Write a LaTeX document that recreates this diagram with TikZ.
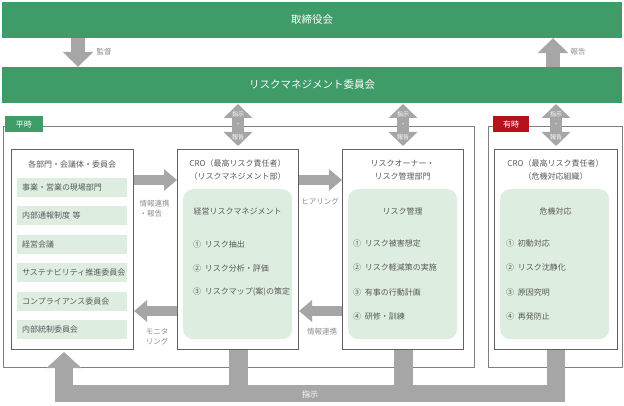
\documentclass[tikz,border=0pt]{standalone}
\usepackage{fontspec}
\newfontfamily\jpfont{Noto Sans CJK JP}
\usetikzlibrary{arrows.meta}
\definecolor{boardgreen}{HTML}{3F9B68}
\definecolor{palegreen}{HTML}{DDEEE1}
\definecolor{arrowgray}{HTML}{A6A6A6}
\definecolor{textgray}{HTML}{595959}
\definecolor{notegray}{HTML}{8C8C8C}
\definecolor{framegray}{HTML}{808080}
\definecolor{alertred}{HTML}{B5121B}

\begin{document}
\begin{tikzpicture}[x=1pt,y=-1pt,font=\jpfont\fontsize{8}{9}\selectfont,text=textgray,
  greenbar/.style={fill=boardgreen,text=white,inner sep=0pt,minimum width=620pt,minimum height=36pt,font=\jpfont\fontsize{10.5}{12}\selectfont},
  framebox/.style={draw=framegray,line width=0.8pt},
  phasetag/.style={text=white,inner sep=0pt,minimum height=16pt,font=\jpfont\fontsize{8}{9}\selectfont},
  unitbox/.style={draw=black!62,line width=1pt,fill=white,inner sep=0pt,minimum height=200pt,anchor=north west},
  tasktag/.style={fill=palegreen,inner xsep=5pt,inner ysep=0pt,text width=100pt,minimum height=19pt,align=left},
  taskpanel/.style={fill=palegreen,rounded corners=10pt,inner sep=0pt,minimum width=109pt,minimum height=150pt,anchor=north west},
  steptext/.style={anchor=west,inner sep=0pt},
  note/.style={text=notegray,font=\jpfont\fontsize{7.5}{10}\selectfont},
  arrowtext/.style={text=white,inner sep=0pt,font=\jpfont\fontsize{6}{6}\selectfont},
  flowarrow/.style={arrowgray,line width=10pt,-{Triangle[width=21pt,length=13pt]}},
  vertarrow/.style={arrowgray,line width=14pt,-{Triangle[width=30pt,length=15pt]}},
  dualarrow/.style={arrowgray,line width=12pt,{Triangle[width=28pt,length=14pt]}-{Triangle[width=28pt,length=14pt]}},
  bigarrow/.style={arrowgray,line width=17.5pt,line join=miter,-{Triangle[width=34pt,length=16pt]}},
  stem/.style={arrowgray,line width=19pt}]
\useasboundingbox (0,0) rectangle (624,406);

% board and committee
\node[greenbar] (board) at (312,20) {取締役会};
\node[greenbar] (committee) at (312,85) {リスクマネジメント委員会};
\draw[vertarrow] (board.south -| 78,0) -- (committee.north -| 78,0);
\node[note,anchor=west] (supervise) at (93,52) {監督};
\draw[vertarrow] (committee.north -| 553,0) -- (board.south -| 553,0);
\node[note,anchor=west] (reportup) at (567,52) {報告};

% phase frames
\draw[framebox] (3,126) rectangle (474,367);
\draw[framebox] (488,126) rectangle (622,367);
\node[phasetag,fill=boardgreen,minimum width=38pt] (normal) at (24,124) {平時};
\node[phasetag,fill=alertred,minimum width=36pt] (emergency) at (511,124) {有時};

% units
\node[unitbox,minimum width=122pt] (dept) at (11,149) {};
\node[unitbox,minimum width=121pt] (cro) at (177,149) {};
\node[unitbox,minimum width=121pt] (owner) at (342,149) {};
\node[unitbox,minimum width=123pt] (crisis) at (494,149) {};

\node (deptT) at (72,164) {各部門・会議体・委員会};
\foreach \t [count=\i] in {事業・営業の現場部門,内部通報制度 等,経営会議,サステナビリティ推進委員会,コンプライアンス委員会,内部統制委員会}
  \node[tasktag] (item\i) at (72,{187.5+(\i-1)*28.4}) {\t};

\node (croT) at (237.5,163) {CRO（最高リスク責任者）};
\node (croS) at (237.5,176) {（リスクマネジメント部）};
\node[taskpanel] (croP) at (183,189) {};
\node (croH) at (237.5,211) {経営リスクマネジメント};
\node[steptext] (cro1) at (193,244) {①\ \ リスク抽出};
\node[steptext] (cro2) at (193,268) {②\ \ リスク分析・評価};
\node[steptext] (cro3) at (193,292) {③\ \ リスクマップ(案)の策定};

\node (ownerT) at (402.5,163) {リスクオーナー・};
\node (ownerS) at (402.5,176) {リスク管理部門};
\node[taskpanel] (ownerP) at (348,189) {};
\node (ownerH) at (402.5,211) {リスク管理};
\node[steptext] (owner1) at (353,243) {①\ \ リスク被害想定};
\node[steptext] (owner2) at (353,267.5) {②\ \ リスク軽減策の実施};
\node[steptext] (owner3) at (353,292) {③\ \ 有事の行動計画};
\node[steptext] (owner4) at (353,316.5) {④\ \ 研修・訓練};

\node (crisisT) at (555.5,163) {CRO（最高リスク責任者）};
\node (crisisS) at (555.5,176) {（危機対応組織）};
\node[taskpanel] (crisisP) at (500,189) {};
\node (crisisH) at (555.5,211) {危機対応};
\node[steptext] (crisis1) at (506,243) {①\ \ 初動対応};
\node[steptext] (crisis2) at (506,267.5) {②\ \ リスク沈静化};
\node[steptext] (crisis3) at (506,292) {③\ \ 原因究明};
\node[steptext] (crisis4) at (506,316.5) {④\ \ 再発防止};

% flows between units
\draw[flowarrow] (dept.east |- 0,180) -- (cro.west |- 0,180);
\node[note,align=left,anchor=north west] (linkA) at (136,197) {情報連携\\・報告};
\draw[flowarrow] (cro.east |- 0,180) -- (owner.west |- 0,180);
\node[note] (hearing) at (320,202) {ヒアリング};
\draw[flowarrow] (cro.west |- 0,311) -- (dept.east |- 0,311);
\node[note,align=center] (monitor) at (157,337) {モニタ\\リング};
\draw[flowarrow] (owner.west |- 0,311) -- (cro.east |- 0,311);
\node[note] (linkB) at (322,332) {情報連携};

% instruction / report to committee
\foreach \b in {cro,owner,crisis}{
  \draw[dualarrow] (\b.north |- 0,104) -- (\b.north |- 0,146);
  \node[arrowtext] (\b-cmd) at (\b.north |- 0,114) {指示};
  \node[arrowtext] (\b-dot) at (\b.north |- 0,125) {・};
  \node[arrowtext] (\b-rep) at (\b.north |- 0,137) {報告};
}

% instruction bar
\coordinate (turn) at (64,393.5);
\draw[bigarrow] (crisis.south) |- (turn) -- (turn |- 0,352);
\draw[stem] (cro.south) -- (cro.south |- turn);
\draw[stem] (owner.south) -- (owner.south |- turn);
\node[text=white,inner sep=0pt] (order) at (310,394) {指示};
\end{tikzpicture}
\end{document}
